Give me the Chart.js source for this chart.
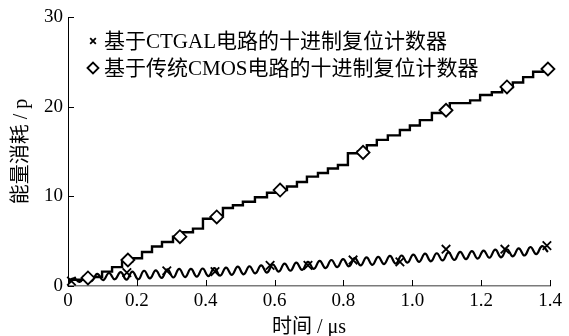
<!DOCTYPE html>
<html>
<head>
<meta charset="utf-8">
<script src="https://cdn.jsdelivr.net/npm/chart.js@4/dist/chart.umd.min.js"></script>
<style>
html,body{margin:0;padding:0;background:#fff;}
#wrap{width:569px;height:336px;}
</style>
</head>
<body>
<div id="wrap"><canvas id="energyChart" width="569" height="336"></canvas></div>
<script>
// series names
let seriesNames=['基于CTGAL电路的十进制复位计数器','基于传统CMOS电路的十进制复位计数器'];
let xTickLabels=['0','0.2','0.4','0.6','0.8','1.0','1.2','1.4'];
let yTickLabels=['0','10','20','30'];

// CTGAL: oscillating energy curve (read at peaks / troughs)
let waveTime=[0,0.017,0.034,0.051,0.068,0.085,0.102,0.119,0.136,0.153,
  0.17,0.187,0.204,0.221,0.238,0.255,0.272,0.289,0.306,0.323,
  0.34,0.357,0.374,0.391,0.408,0.425,0.442,0.459,0.476,0.493,
  0.51,0.527,0.544,0.561,0.578,0.595,0.612,0.629,0.646,0.663,
  0.68,0.697,0.714,0.731,0.748,0.765,0.782,0.799,0.816,0.833,
  0.85,0.867,0.884,0.901,0.918,0.935,0.952,0.969,0.986,1.003,
  1.02,1.037,1.054,1.071,1.088,1.105,1.122,1.139,1.156,1.173,
  1.19,1.207,1.224,1.241,1.258,1.275,1.292,1.309,1.326,1.343,
  1.36,1.377,1.394];
let waveEnergy=[0.5,0.85,0.45,1.15,0.55,1.35,0.65,1.45,0.75,1.55,
  0.7,1.6,0.75,1.7,0.85,1.75,0.9,1.85,0.95,1.9,
  1.0,1.9,1.05,1.95,1.1,2.0,1.15,2.05,1.25,2.15,
  1.3,2.2,1.4,2.3,1.5,2.4,1.6,2.5,1.7,2.6,
  1.8,2.7,1.9,2.8,2.0,2.9,2.1,3.0,2.2,3.1,
  2.3,3.2,2.35,3.25,2.45,3.35,2.5,3.4,2.6,3.5,
  2.7,3.6,2.75,3.65,2.85,3.75,2.9,3.8,3.0,3.9,
  3.05,3.95,3.15,4.05,3.2,4.1,3.3,4.2,3.4,4.35,
  3.55,4.45,3.8];
// CTGAL markers (x)
let crossTime=[0.01,0.171,0.287,0.427,0.587,0.697,0.828,0.964,1.098,1.269,1.391];
let crossEnergy=[0.55,1.5,1.7,1.6,2.3,2.3,2.9,2.7,4.1,4.1,4.5];

// CMOS: staircase energy (step start time, level)
let stepTime=[0,0.006,0.044,0.099,0.128,0.157,0.186,0.215,0.244,0.273,
  0.305,0.334,0.363,0.392,0.421,0.450,0.479,0.508,0.543,0.578,
  0.607,0.636,0.665,0.694,0.726,0.755,0.784,0.813,0.842,0.868,
  0.897,0.929,0.964,0.993,1.022,1.057,1.086,1.109,1.168,1.197,
  1.231,1.261,1.292,1.322,1.351,1.380,1.4];
let stepEnergy=[0.5,0.7,1.0,1.6,2.1,2.7,3.1,3.8,4.4,4.9,
  5.5,6.0,6.4,7.5,7.9,8.7,9.0,9.4,9.9,10.4,
  10.7,11.1,11.6,12.2,12.6,13.1,13.5,14.8,15.0,15.7,
  16.3,16.8,17.4,17.9,18.5,19.3,19.7,20.4,20.7,21.3,
  21.6,22.2,22.7,23.3,23.9,24.3,24.3];
// CMOS markers (diamond)
let diamondTime=[0.058,0.174,0.325,0.432,0.616,0.857,1.098,1.275,1.394];
let diamondEnergy=[0.9,2.9,5.5,7.7,10.7,14.9,19.6,22.2,24.2];

function pairs(xs,ys){
    let out=[];
    for(let i=0;i<xs.length;++i){out.push({x:xs[i],y:ys[i]});}
    return out;
}

const fontFamily="'Liberation Serif','Noto Sans CJK SC',serif";

// ticks drawn pointing into the plot area
const innerTicks={
    id:'innerTicks',
    afterDatasetsDraw(chart){
        const ctx=chart.ctx;
        const xs=chart.scales.x, ys=chart.scales.y;
        ctx.save();
        ctx.strokeStyle='#000';
        ctx.lineWidth=1;
        xs.ticks.forEach(function(t,i){
            let px=Math.round(xs.getPixelForTick(i))+0.5;
            ctx.beginPath();ctx.moveTo(px,xs.top);ctx.lineTo(px,xs.top-6);ctx.stroke();
        });
        ys.ticks.forEach(function(t,i){
            let py=Math.round(ys.getPixelForTick(i))+0.5;
            ctx.beginPath();ctx.moveTo(ys.right,py);ctx.lineTo(ys.right+6,py);ctx.stroke();
        });
        ctx.restore();
    }
};

// legend in the upper left corner of the plot area
const cornerLegend={
    id:'cornerLegend',
    afterDraw(chart){
        const ctx=chart.ctx, area=chart.chartArea;
        const marks=[chart.data.datasets[1],chart.data.datasets[3]];
        const sizes=[4,5.5];
        ctx.save();
        ctx.textBaseline='middle';
        marks.forEach(function(ds,i){
            let y=area.top+24+i*27;
            let x=area.left+25;
            ctx.fillStyle=ds.backgroundColor;
            ctx.strokeStyle=ds.borderColor;
            Chart.helpers.drawPoint(ctx,{pointStyle:ds.pointStyle,radius:sizes[i],borderWidth:1.5},x,y);
            ctx.fillStyle='#000';
            ctx.font='21px '+fontFamily;
            ctx.fillText(seriesNames[i],x+11,y+1);
        });
        ctx.restore();
    }
};
Chart.defaults.font.family=fontFamily;
Chart.defaults.color='#000';

new Chart('energyChart',{
    type:'line',
    data:{
        datasets:[
            {
                label:seriesNames[0],
                data:pairs(waveTime,waveEnergy),
                borderColor:'#000',borderWidth:2.2,
                pointRadius:0,tension:0.45,fill:false,order:3
            },
            {
                label:seriesNames[0]+' marker',
                data:pairs(crossTime,crossEnergy),
                showLine:false,pointStyle:'crossRot',pointRadius:6,
                borderColor:'#000',borderWidth:1.8,backgroundColor:'#000',
                clip:false,order:1
            },
            {
                label:seriesNames[1],
                data:pairs(stepTime,stepEnergy),
                borderColor:'#000',borderWidth:2.4,stepped:'before',
                pointRadius:0,fill:false,order:4
            },
            {
                label:seriesNames[1]+' marker',
                data:pairs(diamondTime,diamondEnergy),
                showLine:false,pointStyle:'rectRot',pointRadius:6.5,
                borderColor:'#000',borderWidth:1.8,backgroundColor:'#fff',
                clip:false,order:2
            }
        ]
    },
    options:{
        responsive:false,
        animation:false,
        layout:{padding:{top:17,right:19,left:0,bottom:0}},
        plugins:{legend:{display:false},tooltip:{enabled:false}},
        scales:{
            x:{
                type:'linear',min:0,max:1.4,
                border:{color:'#7a7a7a',width:1.5},
                grid:{display:false,drawTicks:false},
                ticks:{stepSize:0.2,padding:4,font:{size:19},
                    callback:function(v,i){return xTickLabels[i];}},
                title:{display:true,text:'时间 / μs',font:{size:20,lineHeight:1},padding:{top:0,bottom:-2}},
                afterFit:function(s){s.height=50;}
            },
            y:{
                min:0,max:30,
                border:{color:'#000',width:1},
                grid:{display:false,drawTicks:false},
                ticks:{stepSize:10,padding:5,font:{size:19},
                    callback:function(v,i){return yTickLabels[i];}},
                title:{display:true,text:'能量消耗 / p',font:{size:20,lineHeight:1},padding:{top:12,bottom:0}},
                afterFit:function(s){s.width=68;}
            }
        }
    },
    plugins:[innerTicks,cornerLegend]
});
</script>
</body>
</html>
